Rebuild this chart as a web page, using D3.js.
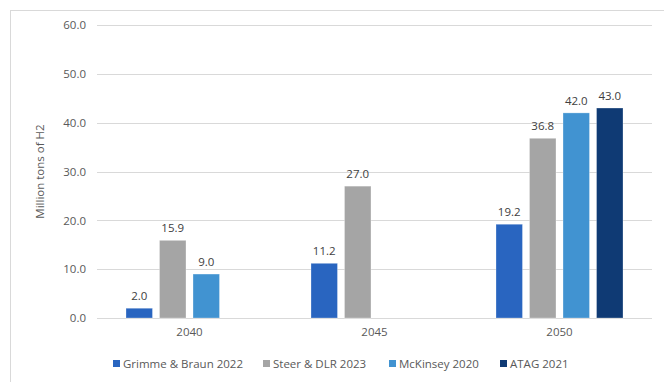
<!DOCTYPE html>
<html>
<head>
<meta charset="utf-8">
<script src="https://cdn.jsdelivr.net/npm/d3@7"></script>
<style>
  html, body { margin: 0; padding: 0; background: #fff; }
  svg { display: block; font-family: "Open Sans", "Noto Sans", sans-serif; }
</style>
</head>
<body>
<svg id="chart" width="664" height="382"></svg>
<script>
// Hydrogen demand projections by year and source
const years = ["2040", "2045", "2050"];
const seriesNames = ["Grimme & Braun 2022", "Steer & DLR 2023", "McKinsey 2020", "ATAG 2021"];
const grimmeBraun = [2.0, 11.2, 19.2];
const steerDlr = [15.9, 27.0, 36.8];
const mckinsey = [9.0, null, 42.0];
const atag = [null, null, 43.0];
const yTicks = [0, 10, 20, 30, 40, 50, 60];
const colors = ["#2965C0", "#A5A5A5", "#4193D1", "#0F3A74"];

const seriesValues = [grimmeBraun, steerDlr, mckinsey, atag];

const svg = d3.select("#chart");
const W = 664, H = 382;
const plot = { left: 97, right: 652, top: 25, bottom: 318 };
const fontSize = "11.5px";

// Outer chart frame
svg.append("rect")
  .attr("x", 10.5).attr("y", 10.5)
  .attr("width", W + 10).attr("height", H + 10)
  .attr("fill", "none").attr("stroke", "#d9d9d9").attr("stroke-width", 1);

const x0 = d3.scaleBand().domain(years).range([plot.left, plot.right]).paddingInner(0).paddingOuter(0);
const x1 = d3.scaleBand().domain(seriesNames).range([29, x0.bandwidth() - 29]).paddingInner(0.21).paddingOuter(0);
const y = d3.scaleLinear().domain([0, 60]).range([plot.bottom, plot.top]);

// Gridlines
svg.append("g").selectAll("line").data(yTicks).join("line")
  .attr("x1", plot.left).attr("x2", plot.right)
  .attr("y1", d => Math.round(y(d)) + 0.5).attr("y2", d => Math.round(y(d)) + 0.5)
  .attr("stroke", "#d9d9d9").attr("stroke-width", 1);

// Y axis tick labels
const yAxis = d3.axisLeft(y).tickValues(yTicks).tickFormat(d3.format(".1f")).tickSize(0).tickPadding(0);
const yg = svg.append("g").attr("transform", `translate(${plot.left - 11},0)`).call(yAxis);
yg.select(".domain").remove();
yg.selectAll("text").attr("fill", "#595959").style("font-size", fontSize)
  .style("font-family", "'Open Sans', 'Noto Sans', sans-serif");

// Y axis title
svg.append("text")
  .attr("transform", `translate(44,${171.5}) rotate(-90)`)
  .attr("text-anchor", "middle")
  .attr("fill", "#595959").style("font-size", fontSize)
  .text("Million tons of H2");

// X axis category labels
const xAxis = d3.axisBottom(x0).tickSize(0).tickPadding(0);
const xg = svg.append("g").attr("transform", `translate(0,${plot.bottom + 10})`).call(xAxis);
xg.select(".domain").remove();
xg.selectAll("text").attr("fill", "#595959").style("font-size", fontSize)
  .style("font-family", "'Open Sans', 'Noto Sans', sans-serif");

// Bars
const barData = [];
years.forEach((yr, i) => {
  seriesNames.forEach((s, j) => {
    const v = seriesValues[j][i];
    if (v != null) barData.push({ year: yr, series: s, value: v, color: colors[j] });
  });
});

svg.append("g").selectAll("rect").data(barData).join("rect")
  .attr("x", d => x0(d.year) + x1(d.series))
  .attr("y", d => y(d.value))
  .attr("width", x1.bandwidth())
  .attr("height", d => y(0) - y(d.value))
  .attr("fill", d => d.color)
  .attr("stroke", "#ffffff").attr("stroke-opacity", 0.35).attr("stroke-width", 0.8);

// Value labels
svg.append("g").selectAll("text").data(barData).join("text")
  .attr("x", d => x0(d.year) + x1(d.series) + x1.bandwidth() / 2)
  .attr("y", d => y(d.value) - 8)
  .attr("text-anchor", "middle")
  .attr("fill", "#404040").style("font-size", fontSize)
  .text(d => d3.format(".1f")(d.value));

// Legend
const legendX = [113, 263, 389, 500];
const lg = svg.append("g").selectAll("g").data(seriesNames).join("g")
  .attr("transform", (d, i) => `translate(${legendX[i]},364)`);
lg.append("rect").attr("x", 0).attr("y", -4).attr("width", 7).attr("height", 7)
  .attr("fill", (d, i) => colors[i]);
lg.append("text").attr("x", 10).attr("y", 0).attr("dy", "0.35em")
  .attr("fill", "#595959").style("font-size", fontSize)
  .text(d => d);
</script>
</body>
</html>
